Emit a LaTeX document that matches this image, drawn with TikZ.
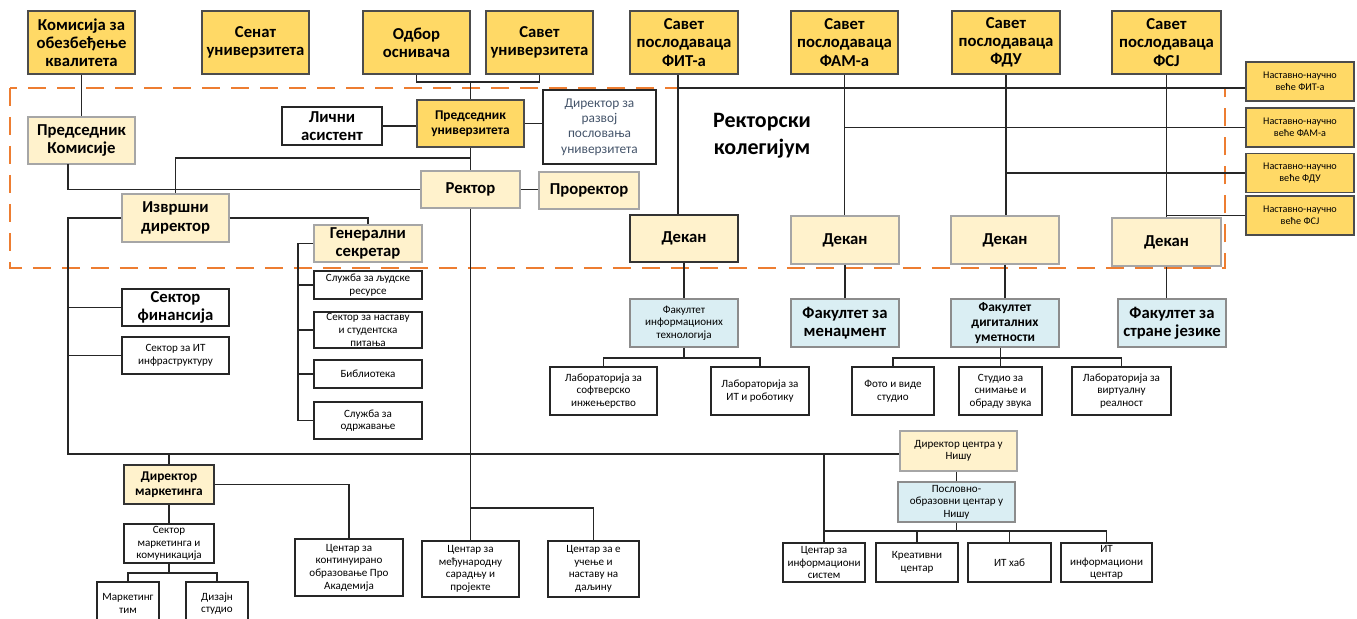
\documentclass[tikz,border=0pt]{standalone}
\usepackage{fontspec}
\setmainfont{Carlito}
\definecolor{gold}{HTML}{FFD966}
\definecolor{cream}{HTML}{FFF2CC}
\definecolor{skyb}{HTML}{DAEEF3}
\definecolor{dashor}{HTML}{ED7D31}
\definecolor{textblue}{HTML}{44546A}
\newcommand{\fbig}{\fontsize{9.5}{10.4}\selectfont}
\newcommand{\fmid}{\fontsize{7.6}{8.8}\selectfont}
\newcommand{\fsmall}{\fontsize{6.3}{7.2}\selectfont}
\newcommand{\ftiny}{\fontsize{5.8}{6.8}\selectfont}

\begin{document}
\begin{tikzpicture}[
  x=0.02cm, y=-0.02cm,
  wh/.style 2 args={minimum width=#1*0.02cm, minimum height=#2*0.02cm},
  box/.style={draw, line width=0.8pt, align=center, inner sep=1pt, font=\fbig\bfseries},
  topbox/.style={box, draw=black!70, fill=gold, wh={107}{63}},
  headbox/.style={box, draw=black!35, fill=cream},
  plainbox/.style={box, draw=black!85, fill=white, font=\fsmall},
  facbox/.style={box, draw=black!45, fill=skyb, wh={108}{48}},
  link/.style={draw=black!85, line width=0.7pt}
]
  \useasboundingbox (0,0) rectangle (1357,619);

  % governing bodies
  \node[topbox] (kom) at (81.5,42.5) {Комисија за\\обезбеђење\\квалитета};
  \node[topbox] (senat) at (255.5,42.5) {Сенат\\универзитета};
  \node[topbox] (odbor) at (416.5,42.5) {Одбор\\оснивача};
  \node[topbox] (savet) at (539.5,42.5) {Савет\\универзитета};
  \node[topbox, wh={108}{63}] (spfit) at (684,42.5) {Савет\\послодаваца\\ФИТ-а};
  \node[topbox] (spfam) at (844.5,42.5) {Савет\\послодаваца\\ФАМ-а};
  \node[topbox, wh={108}{63}] (spfdu) at (1006,42.5) {Савет\\послодаваца\\ФДУ};
  \node[topbox, wh={109}{63}] (spfsj) at (1166.5,42.5) {Савет\\послодаваца\\ФСЈ};

  % rector's collegium
  \draw[dashor, line width=1.3pt, dash pattern=on 0.36cm off 0.22cm] (10,88) rectangle (1225,268);
  \node[font=\fontsize{12.5}{15.3}\selectfont\bfseries, align=center] (koleg) at (762,136) {Ректорски\\колегијум};

  \node[headbox, wh={107}{47}] (predkom) at (81.5,140.5) {Председник\\Комисије};
  \node[plainbox, wh={100}{38}, font=\fbig\bfseries] (licni) at (332,126) {Лични\\асистент};
  \node[topbox, wh={107}{47}, font=\fmid\bfseries] (predu) at (470.5,123.5) {Председник\\универзитета};
  \node[plainbox, wh={113}{74}, font=\fmid, text=textblue] (dirraz) at (599.5,127) {Директор за\\развој\\пословања\\универзитета};
  \node[headbox, wh={99}{37}] (rektor) at (470.5,189.5) {Ректор};
  \node[headbox, wh={100}{37}] (prorek) at (589,190.5) {Проректор};
  \node[headbox, wh={107}{48}] (izvrs) at (175.5,218) {Извршни\\директор};
  \node[headbox, wh={108}{37}] (gensek) at (368,243.5) {Генерални\\секретар};

  \node[plainbox, wh={108}{28}] (sljr) at (368,285) {Служба за људске\\ресурсе};
  \node[plainbox, wh={108}{36}] (sknas) at (368,330) {Сектор за наставу\\и студентска\\питања};
  \node[plainbox, wh={108}{28}] (bibl) at (368,374) {Библиотека};
  \node[plainbox, wh={108}{37}] (odrz) at (368,420.5) {Служба за\\одржавање};
  \node[plainbox, wh={107}{37}, font=\fbig\bfseries] (sekfin) at (175.5,307.5) {Сектор\\финансија};
  \node[plainbox, wh={107}{37}] (sekit) at (175.5,355.5) {Сектор за ИТ\\инфраструктуру};

  % deans and faculty councils
  \node[headbox, draw=black!80, line width=1.1pt, wh={108}{47}] (dek1) at (684,238.5) {Декан};
  \node[headbox, wh={108}{48}] (dek2) at (845,240) {Декан};
  \node[headbox, wh={108}{48}] (dek3) at (1005,240) {Декан};
  \node[headbox, wh={109}{48}] (dek4) at (1166.5,242) {Декан};

  \node[topbox, wh={108}{39}, font=\ftiny] (nfit) at (1300,81.5) {Наставно-научно\\веће ФИТ-а};
  \node[topbox, wh={108}{39}, font=\ftiny] (nfam) at (1300,127.5) {Наставно-научно\\веће ФАМ-а};
  \node[topbox, wh={108}{39}, font=\ftiny] (nfdu) at (1300,173) {Наставно-научно\\веће ФДУ};
  \node[topbox, wh={108}{39}, font=\ftiny] (nfsj) at (1300,215.5) {Наставно-научно\\веће ФСЈ};

  % faculties and labs
  \node[facbox, font=\fsmall] (ffit) at (684,323) {Факултет\\информационих\\технологија};
  \node[facbox] (ffam) at (845,323) {Факултет за\\менаџмент};
  \node[facbox, font=\fmid\bfseries] (ffdu) at (1005,323) {Факултет\\дигиталних\\уметности};
  \node[facbox] (ffsj) at (1172,323) {Факултет за\\стране језике};

  \node[plainbox, wh={107}{48}] (labsoft) at (603.5,391) {Лабораторија за\\софтверско\\инжењерство};
  \node[plainbox, wh={98}{48}] (labit) at (760,391) {Лабораторија за\\ИТ и роботику};
  \node[plainbox, wh={82}{48}] (foto) at (893,391) {Фото и виде\\студио};
  \node[plainbox, wh={83}{48}] (studz) at (1000.5,391) {Студио за\\снимање и\\обраду звука};
  \node[plainbox, wh={99}{48}] (labvr) at (1121.5,391) {Лабораторија за\\виртуалну\\реалност};

  % Nis centre
  \node[headbox, wh={117}{40}, font=\fsmall] (dirnis) at (958.5,451) {Директор центра у\\Нишу};
  \node[facbox, wh={117}{40}, font=\fsmall] (posnis) at (956.5,502) {Пословно-\\образовни центар у\\Нишу};
  \node[plainbox, wh={82}{39}] (cis) at (824,562.5) {Центар за\\информациони\\систем};
  \node[plainbox, wh={82}{39}] (kreat) at (917,562.5) {Креативни\\центар};
  \node[plainbox, wh={83}{39}] (ithab) at (1009.5,562.5) {ИТ хаб};
  \node[plainbox, wh={91}{39}] (itinf) at (1106.5,562.5) {ИТ\\информациони\\центар};

  % marketing and centres
  \node[headbox, draw=black!80, wh={90}{39}, font=\fmid\bfseries] (dirmark) at (169,484.5) {Директор\\маркетинга};
  \node[plainbox, wh={90}{39}] (sekmark) at (169,543.5) {Сектор\\маркетинга и\\комуникација};
  \node[plainbox, wh={62}{43}] (martim) at (128,603.5) {Маркетинг\\тим};
  \node[plainbox, wh={62}{43}] (dizajn) at (217,603.5) {Дизајн\\студио};
  \node[plainbox, wh={108}{57}] (centkont) at (349,567.5) {Центар за\\континуирано\\образовање Про\\Академија};
  \node[plainbox, wh={97}{56}] (medj) at (470.5,569) {Центар за\\међународну\\сарадњу и\\пројекте};
  \node[plainbox, wh={91}{56}] (ucen) at (593.5,569) {Центар за е\\учење и\\наставу на\\даљину};

  % junctions
  \coordinate (jtop) at (470.5,82);
  \coordinate (jpr) at (470.5,158);
  \coordinate (jpk) at (68,164);
  \coordinate (jbl) at (68,454);
  \coordinate (jgs) at (298,420.5);
  \coordinate (jre) at (470.5,508);
  \coordinate (jsm) at (169,573);
  \coordinate (hfit) at (678,88);
  \coordinate (jff) at (684,358);
  \coordinate (jfd) at (1000.5,358);
  \coordinate (jnis) at (956.5,531);

  % connectors
  \draw[link] (kom) -- (predkom);
  \draw[link] (odbor.south) |- (jtop) -| (savet.south);
  \draw[link] (jtop) -- (predu);
  \draw[link] (licni.east) -- (licni.east -| predu.west);
  \draw[link] (predu.east) -- (predu.east -| dirraz.west);
  \draw[link] (predu) -- (rektor);
  \draw[link] (jpr) -| (izvrs.north);
  \draw[link] (jpk) |- (rektor.west);
  \draw[link] (rektor.east) -- (rektor.east -| prorek.west);
  \draw[link] (izvrs.west) -| (jbl) -- (jbl -| dirnis.west);
  \draw[link] (sekfin.west) -- (sekfin.west -| jbl);
  \draw[link] (sekit.west) -- (sekit.west -| jbl);
  \draw[link] (izvrs.east) -| (gensek.north);
  \draw[link] (gensek.west) -| (jgs) -- (odrz.west);
  \foreach \n in {sljr,sknas,bibl}
    \draw[link] (\n.west) -- (\n.west -| jgs);
  \draw[link] (rektor) -- (medj);
  \draw[link] (jre) -| (ucen.north);
  \draw[link] (dirmark.north) -- (dirmark.north |- jbl);
  \draw[link] (dirmark.east) -| (centkont.north);
  \draw[link] (dirmark) -- (sekmark);
  \draw[link] (sekmark.south) -- (jsm);
  \draw[link] (martim.north) |- (jsm) -| (dizajn.north);

  \draw[link] ([xshift=-0.12cm]spfit.south) -- ([xshift=-0.12cm]dek1.north);
  \draw[link] (spfam.south) -- (spfam.south |- dek2.north);
  \draw[link] (spfdu.south) -- (spfdu.south |- dek3.north);
  \draw[link] (spfsj.south) -- (spfsj.south |- dek4.north);
  \draw[link] (hfit) -- (hfit -| nfit.west);
  \draw[link] (spfam.south |- nfam.west) -- (nfam.west);
  \draw[link] (spfdu.south |- nfdu.west) -- (nfdu.west);
  \draw[link] (spfsj.south |- nfsj.west) -- (nfsj.west);

  \draw[link] (dek1) -- (ffit);
  \draw[link] (dek2) -- (ffam);
  \draw[link] (dek3) -- (ffdu);
  \draw[link] (dek4.south) -- (dek4.south |- ffsj.north);
  \draw[link] (ffit.south) -- (jff);
  \draw[link] (labsoft.north) |- (jff) -| (labit.north);
  \draw[link] (studz.north) -- (studz.north |- ffdu.south);
  \draw[link] (foto.north) |- (jfd) -| (labvr.north);

  \draw[link] (posnis.north) -- (posnis.north |- dirnis.south);
  \draw[link] (posnis.south) -- (jnis);
  \draw[link] (cis.north |- jbl) -- (cis.north);
  \draw[link] (cis.north |- jnis) -| (itinf.north);
  \draw[link] (kreat.north) -- (kreat.north |- jnis);
  \draw[link] (ithab.north) -- (ithab.north |- jnis);
\end{tikzpicture}
\end{document}
